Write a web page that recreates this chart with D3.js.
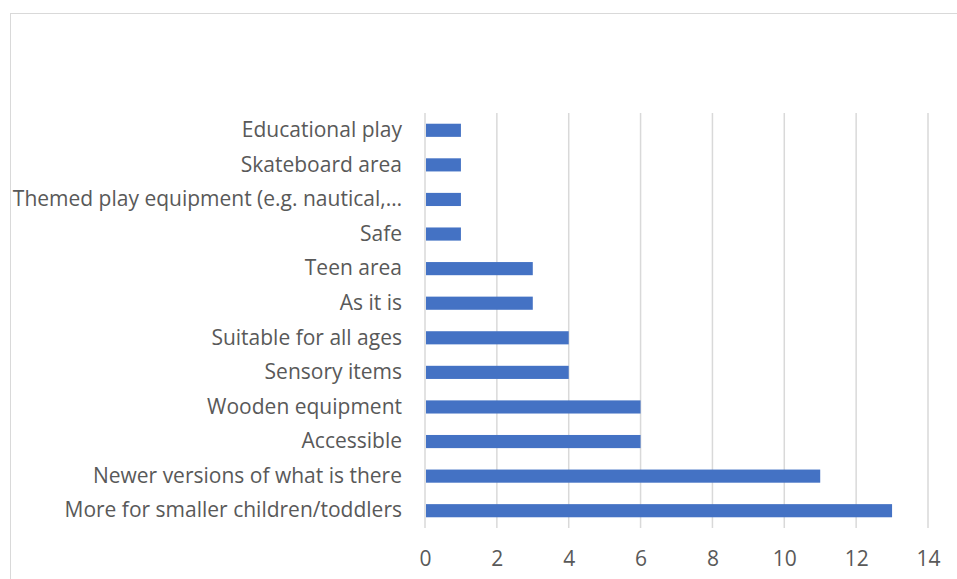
<!DOCTYPE html>
<html>
<head>
<meta charset="utf-8">
<script src="https://cdn.jsdelivr.net/npm/d3@7"></script>
<style>
  html, body { margin: 0; padding: 0; background: #fff; }
  svg { display: block; }
</style>
</head>
<body>
<svg id="chart" width="957" height="579"></svg>
<script>
// Responses, listed top to bottom
const categories = [
  "Educational play",
  "Skateboard area",
  "Themed play equipment (e.g. nautical,…",
  "Safe",
  "Teen area",
  "As it is",
  "Suitable for all ages",
  "Sensory items",
  "Wooden equipment",
  "Accessible",
  "Newer versions of what is there",
  "More for smaller children/toddlers"
];
const counts = [1, 1, 1, 1, 3, 3, 4, 4, 6, 6, 11, 13];
const tickValues = [0, 2, 4, 6, 8, 10, 12, 14];

const svg = d3.select("#chart");
const W = 957, H = 579;
const plot = { left: 425, right: 928, top: 113, bottom: 528 };
const font = "'Open Sans', sans-serif";
const textColor = "#595959";

// chart frame
svg.append("rect")
  .attr("x", 10.5).attr("y", 13.5)
  .attr("width", W + 20).attr("height", H + 20)
  .attr("fill", "#fff").attr("stroke", "#d9d9d9").attr("stroke-width", 1);

const x = d3.scaleLinear().domain([0, 14]).range([plot.left, plot.right]);
const y = d3.scaleBand().domain(categories).range([plot.top, plot.bottom])
  .paddingInner(0.62).paddingOuter(0.31);

// vertical gridlines
svg.append("g")
  .selectAll("line")
  .data(tickValues)
  .join("line")
  .attr("x1", d => x(d)).attr("x2", d => x(d))
  .attr("y1", plot.top).attr("y2", plot.bottom)
  .attr("stroke", "#d9d9d9").attr("stroke-width", 1.5);

// bars
svg.append("g")
  .selectAll("rect")
  .data(categories)
  .join("rect")
  .attr("x", x(0) + 1)
  .attr("y", d => y(d))
  .attr("width", (d, i) => x(counts[i]) - x(0) - 1)
  .attr("height", y.bandwidth())
  .attr("fill", "#4472c4");

// category labels
const yAxis = d3.axisLeft(y).tickSize(0).tickPadding(23);
const gy = svg.append("g").attr("transform", `translate(${plot.left},0)`).call(yAxis);
gy.select(".domain").remove();
gy.selectAll("text")
  .attr("fill", textColor)
  .style("font-family", font)
  .style("font-size", "21px");

// value axis labels
const xAxis = d3.axisBottom(x).tickValues(tickValues).tickSize(0).tickPadding(23);
const gx = svg.append("g").attr("transform", `translate(0,${plot.bottom})`).call(xAxis);
gx.select(".domain").remove();
gx.selectAll("text")
  .attr("fill", textColor)
  .style("font-family", font)
  .style("font-size", "21px");
</script>
</body>
</html>
